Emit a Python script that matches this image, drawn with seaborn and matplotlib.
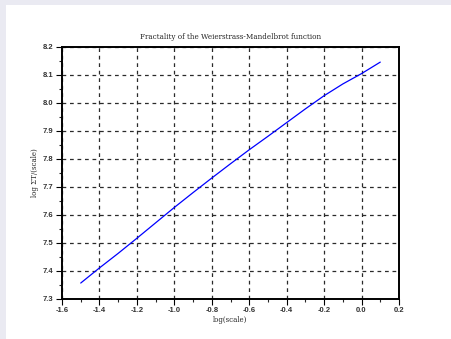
import numpy as np
import pandas as pd
import seaborn as sns
import matplotlib.pyplot as plt
from matplotlib.patches import Rectangle
from matplotlib.ticker import MultipleLocator

# log(scale) samples and measured log of the variation
log_scale = [-1.5, -1.4, -1.3, -1.2, -1.1, -1.0, -0.9, -0.8, -0.7,
             -0.6, -0.5, -0.4, -0.3, -0.2, -0.1, 0.0, 0.1]
log_var = [7.357, 7.411, 7.463, 7.517, 7.572, 7.627, 7.680, 7.732, 7.783,
           7.833, 7.881, 7.930, 7.979, 8.026, 8.068, 8.105, 8.146]

df = pd.DataFrame({"x": log_scale, "y": log_var})

sns.set_theme(style="white")
plt.rcParams["font.family"] = ["Liberation Sans", "DejaVu Sans"]

fig = plt.figure(figsize=(4.51, 3.39), dpi=100)
fig.patch.set_facecolor("#eaeaf2")
fig.patches.append(Rectangle((6 / 451, 0), 1 - 6 / 451, 1 - 5 / 339,
                             transform=fig.transFigure, facecolor="white",
                             edgecolor="none", zorder=-5))

ax = fig.add_axes([0.1375, 0.118, 0.7472, 0.7434])
ax.set_zorder(2)
ax.set_facecolor("white")
sns.lineplot(data=df, x="x", y="y", ax=ax, color="blue", linewidth=0.9)

ax.set_xlim(-1.6, 0.2)
ax.set_ylim(7.3, 8.2)
ax.xaxis.set_major_locator(MultipleLocator(0.2))
ax.xaxis.set_minor_locator(MultipleLocator(0.1))
ax.yaxis.set_major_locator(MultipleLocator(0.1))
ax.yaxis.set_minor_locator(MultipleLocator(0.05))
ax.set_xticklabels([f"{v:.1f}" for v in ax.get_xticks()])
ax.set_yticklabels([f"{v:.1f}" for v in ax.get_yticks()])

ax.grid(True, which="major", color="#2a2a2a", linestyle=(0, (3, 3)), linewidth=0.9)
for s in ax.spines.values():
    s.set_visible(True)
    s.set_color("black")
    s.set_linewidth(1.4)

ax.tick_params(which="major", direction="out", length=4, width=0.8,
               labelsize=5.5, colors="black", pad=2, bottom=True, left=True)
ax.tick_params(which="minor", direction="out", length=2, width=0.8,
               bottom=True, left=True)
for lab in ax.get_xticklabels() + ax.get_yticklabels():
    lab.set_fontweight("bold")
    lab.set_color("#333333")

ax.set_xlabel("log(scale)", family="DejaVu Serif", fontsize=5, labelpad=1)
ax.set_ylabel("log ΣT/(scale)", family="DejaVu Serif", fontsize=5, labelpad=3)
ax.set_title("Fractality of the Weierstrass-Mandelbrot function",
             family="DejaVu Serif", fontsize=5.2, pad=6)

fig.savefig("out.png", dpi=100, facecolor=fig.get_facecolor())
